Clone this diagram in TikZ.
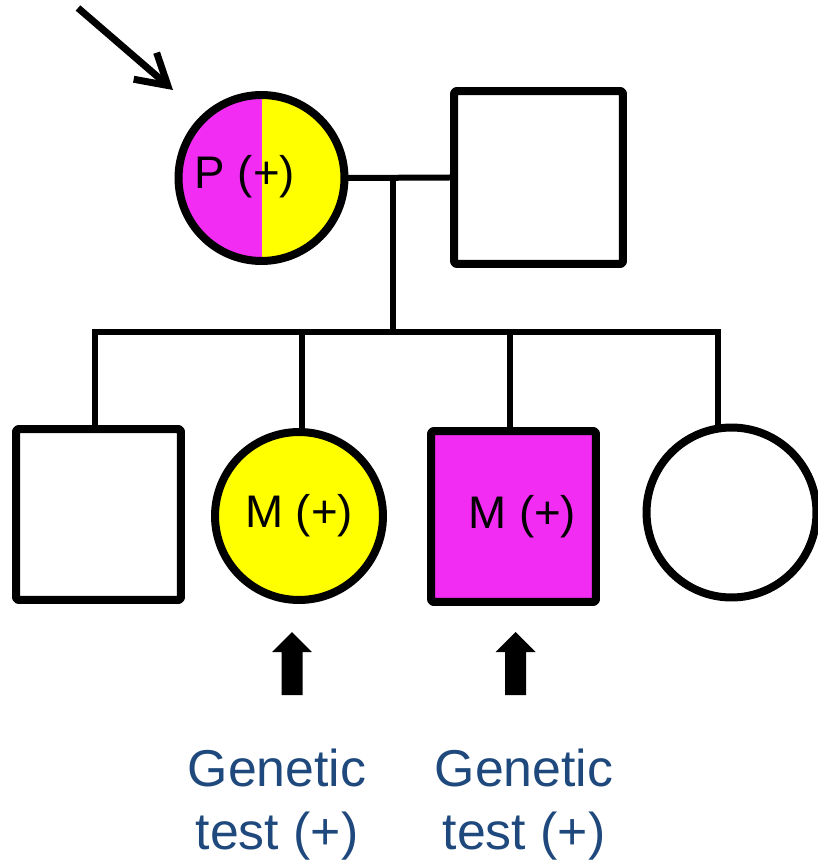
\documentclass[tikz,border=0pt]{standalone}
\usepackage{fontspec}
\setmainfont{Liberation Sans}
\usetikzlibrary{arrows.meta,calc}
\definecolor{pdmagenta}{RGB}{242,44,242}
\definecolor{pdyellow}{RGB}{255,255,0}
\definecolor{pdblue}{RGB}{31,73,125}
\tikzset{
  pd chart/.style={
    x=0.02cm,
    y=-0.02cm,
    line join=round
  },
  pd male/.style={
    draw,
    rectangle,
    rounded corners=1.5pt,
    line width=0.16cm,
    fill=white,
    inner sep=0pt,
    minimum width=3.30cm,
    minimum height=3.42cm,
    font=\fontsize{26}{30}\selectfont
  },
  pd female/.style={
    draw,
    circle,
    line width=0.16cm,
    fill=white,
    inner sep=0pt,
    minimum size=3.36cm,
    font=\fontsize{26}{30}\selectfont
  },
  pd line/.style={
    line width=0.12cm,
    line cap=rect
  },
  pd label/.style={
    font=\fontsize{26}{30}\selectfont,
    inner sep=0pt
  },
  pd note/.style={
    font=\fontsize{29.5}{35.7}\selectfont,
    text=pdblue,
    align=center,
    anchor=north,
    inner sep=0pt
  },
  pd pointer/.style={
    line width=0.14cm,
    -{Straight Barb[length=17pt,width=20pt]}
  },
  pd tested/.style={
    fill=black
  }
}

\begin{document}
\begin{tikzpicture}[pd chart]
  \useasboundingbox (0,0) rectangle (817,864);

  % parents
  \node[pd female, minimum size=3.32cm, fill=pdyellow,
        path picture={\fill[pdmagenta] (path picture bounding box.south west)
                      rectangle (path picture bounding box.north);}]
        (proband) at (261.5,178) {};
  \node[pd label] (probandtxt) at (245,177) {P (+)};
  \node[pd male, minimum width=3.38cm, minimum height=3.46cm] (father) at (538.5,177.5) {};

  % proband arrow
  \coordinate (ptail) at (78,8);
  \coordinate (ptip) at (173,90);
  \draw[pd pointer] (ptail) -- (ptip);

  % children
  \node[pd male] (son1) at (98.5,514.5) {};
  \node[pd female, fill=pdyellow] (dau1) at (299,516) {M (+)};
  \node[pd male, fill=pdmagenta] (son2) at (513.5,516.5) {\hspace*{10pt}M (+)};
  \node[pd female, minimum size=3.40cm] (dau2) at (731.5,512.5) {};

  % lines of descent
  \coordinate (mate) at (393,178);
  \coordinate (sib) at (393,332);
  \coordinate (sibL) at (95,332);
  \coordinate (sibR) at (718,332);
  \coordinate (drop2) at (302,332);
  \coordinate (drop3) at (510,332);
  \draw[pd line] (proband.east) -- (father.west);
  \draw[pd line] (mate) -- (sib);
  \draw[pd line] (sibL) -- (sibR);
  \draw[pd line] (sibL) -- (sibL |- son1.north);
  \draw[pd line] (drop2) -- (drop2 |- dau1.north);
  \draw[pd line] (drop3) -- (drop3 |- son2.north);
  \draw[pd line] (sibR) -- ($(sibR |- dau2.north)+(0,1)$);

  % tested relatives
  \coordinate (test1) at (292,632);
  \coordinate (test2) at (515.5,632);
  \fill[pd tested] (test1) -- ++(20,20) -- ++(-9.5,0) -- ++(0,43) -- ++(-21,0)
                   -- ++(0,-43) -- ++(-9.5,0) -- cycle;
  \fill[pd tested] (test2) -- ++(20,20) -- ++(-9.5,0) -- ++(0,43) -- ++(-21,0)
                   -- ++(0,-43) -- ++(-9.5,0) -- cycle;
  \node[pd note] (note1) at (277,749) {Genetic\\test (+)};
  \node[pd note] (note2) at (524,749) {Genetic\\test (+)};

\end{tikzpicture}
\end{document}
